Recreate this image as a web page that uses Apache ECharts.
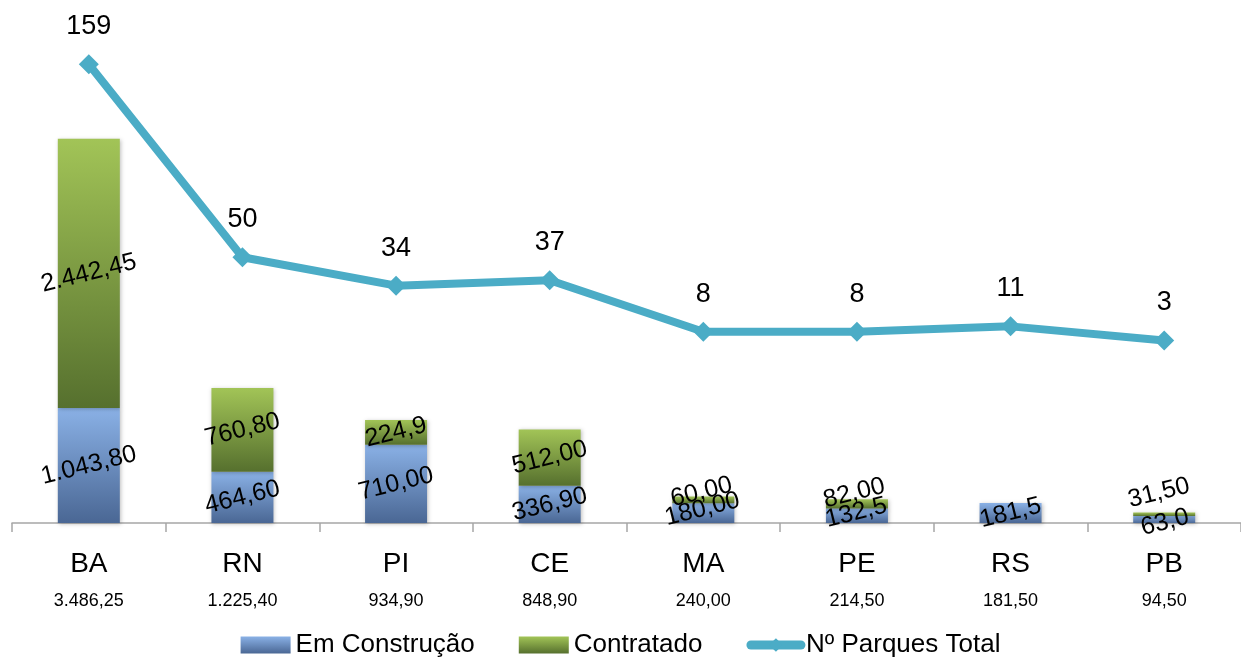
<!DOCTYPE html>
<html><head><meta charset="utf-8">
<script src="https://cdn.jsdelivr.net/npm/echarts@6/dist/echarts.min.js"></script>
<style>html,body{margin:0;padding:0;background:#fff}#c{width:1241px;height:659px}</style>
</head><body><div id="c"></div>
<script>
const categories = ['BA','RN','PI','CE','MA','PE','RS','PB'];
const totalsText = ['3.486,25','1.225,40','934,90','848,90','240,00','214,50','181,50','94,50'];
const emConstrucao = [1043.8, 464.6, 710, 336.9, 180, 132.5, 181.5, 63];
const emConstrucaoText = ['1.043,80','464,60','710,00','336,90','180,00','132,5','181,5','63,0'];
const contratado = [2442.45, 760.8, 224.9, 512, 60, 82, null, 31.5];
const contratadoText = ['2.442,45','760,80','224,9','512,00','60,00','82,00','','31,50'];
const parques = [159, 50, 34, 37, 8, 8, 11, 3];
const legendNames = ['Em Construção','Contratado','Nº Parques Total'];

const FONT = '"Liberation Sans Narrow","Arial Narrow","Liberation Sans",Arial,sans-serif';
const chart = echarts.init(document.getElementById('c'));
const grad = (a,b)=>new echarts.graphic.LinearGradient(0,0,0,1,[{offset:0,color:a},{offset:1,color:b}]);
const blue = grad('#8AB1E6','#4A6794');
const green = grad('#A2C457','#56702E');
const greenShift = {4:-8,5:-11,7:-22};
const blueShift = {4:-4,5:-3,7:3};

chart.setOption({
  animation:false,
  textStyle:{fontFamily:FONT},
  grid:{left:12,right:-3,top:27,bottom:136},
  legend:{
    bottom:-4, left:'center', itemWidth:50, itemHeight:17, itemGap:44,
    textStyle:{fontSize:26,color:'#000',fontFamily:FONT},
    lineStyle:{width:9,cap:'round'},
    data:[{name:legendNames[0],icon:'rect'},{name:legendNames[1],icon:'rect'},{name:legendNames[2]}]
  },
  xAxis:{
    type:'category', data:categories, boundaryGap:true,
    axisLine:{lineStyle:{color:'#A6A6A6',width:1.5}},
    axisTick:{show:true,length:9,lineStyle:{color:'#A6A6A6',width:1.5}},
    axisLabel:{
      margin:22, interval:0,
      formatter:(v,i)=>'{a|'+v+'}\n{b|'+totalsText[i]+'}',
      rich:{a:{fontSize:28,color:'#000',fontFamily:FONT,lineHeight:38},
            b:{fontSize:18,color:'#000',fontFamily:FONT,lineHeight:36}}
    }
  },
  yAxis:[
    {type:'value',min:0,max:4500,show:false,splitLine:{show:false}},
    {type:'value',min:-100,max:180,show:false,splitLine:{show:false}}
  ],
  series:[
    {name:legendNames[0],type:'bar',stack:'t',barWidth:62,
     itemStyle:{color:blue,shadowColor:'rgba(0,0,0,0.25)',shadowBlur:4,shadowOffsetX:1,shadowOffsetY:1},
     data:emConstrucao.map((v,i)=>({value:v,label:{offset:[0,blueShift[i]||0]}})),
     label:{show:true,position:'inside',rotate:14,fontSize:25,color:'#000',fontFamily:FONT,
       formatter:p=>emConstrucaoText[p.dataIndex]}},
    {name:legendNames[1],type:'bar',stack:'t',barWidth:62,
     itemStyle:{color:green,shadowColor:'rgba(0,0,0,0.25)',shadowBlur:4,shadowOffsetX:1,shadowOffsetY:1},
     data:contratado.map((v,i)=>({value:v,label:{offset:[0,greenShift[i]||0]}})),
     label:{show:true,position:'inside',rotate:14,fontSize:25,color:'#000',fontFamily:FONT,
       formatter:p=>contratadoText[p.dataIndex]}},
    {name:legendNames[2],type:'line',yAxisIndex:1,data:parques,
     symbol:'diamond',symbolSize:20,
     lineStyle:{width:8,color:'#4BACC6'},itemStyle:{color:'#4BACC6'},
     label:{show:true,position:'top',distance:14,fontSize:27,color:'#000',fontFamily:FONT}}
  ]
});
</script></body></html>
